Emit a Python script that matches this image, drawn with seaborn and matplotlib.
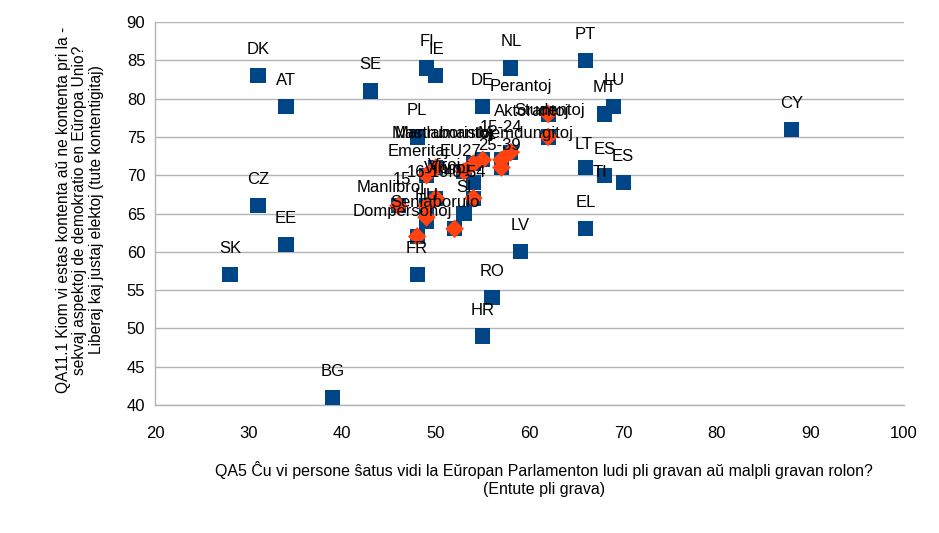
import matplotlib
matplotlib.use("Agg")
import matplotlib.pyplot as plt
import seaborn as sns
import pandas as pd

# Countries (blue squares)
country_labels = ["DK", "AT", "SE", "FI", "IE", "NL", "PT", "DE", "MT", "LU", "CY", "PL",
                  "LT", "ES", "TI", "ES", "CZ", "EE", "SK", "BG", "FR", "RO", "HR", "LV",
                  "EL", "HU", "SI", "EU27"]
country_x = [31, 34, 43, 49, 50, 58, 66, 55, 68, 69, 88, 48,
             66, 68, 68, 70, 31, 34, 28, 39, 48, 56, 55, 59,
             66, 49, 53, 54]
country_y = [83, 79, 81, 84, 83, 84, 85, 79, 78, 79, 76, 75,
             71, 70, 70, 69, 66, 61, 57, 41, 57, 54, 49, 60,
             63, 64, 65, 69]

# Socio-demographic groups (orange diamonds)
group_labels = ["Perantoj", "Studentoj", "Aktorantoj", "15-24", "Memdungitoj", "25-39",
                "Manlaboristoj", "Viroj", "Mastrumantoj", "Emeritaj", "40-54", "16-19",
                "Manlibroj", "Virinoj", "Senlaborulo", "Dompersonoj", "15"]
group_x = [62, 62, 58, 57, 57, 55, 54, 53, 50, 49, 54, 50, 46, 49, 52, 48, 49]
group_y = [78, 75, 73, 72, 71, 72, 71.5, 70.5, 71, 70, 67, 67, 66, 64.5, 63, 62, 66]

x_ticks = [20, 30, 40, 50, 60, 70, 80, 90, 100]
y_ticks = [40, 45, 50, 55, 60, 65, 70, 75, 80, 85, 90]

x_title = "QA5 Ĉu vi persone ŝatus vidi la Eŭropan Parlamenton ludi pli gravan aŭ malpli gravan rolon?\n(Entute pli grava)"
y_title = ("QA11.1 Kiom vi estas kontenta aŭ ne kontenta pri la -\n"
           "sekvaj aspektoj de demokratio en Eŭropa Unio?\n"
           "Liberaj kaj justaj elektoj (tute kontentigitaj)")

# label offsets in image pixels (dx right, dy down) relative to the point
country_off = {"TI": (-4, -3), "EU27": (-13, -31), "LT": (-2, -23)}
group_off = [(-27, -27), (1, -26), (21, -41), (0, -32), (24, -34), (17, -14),
             (-29, -30), (-19, -6), (6, -34), (-8, -24), (-8, -26), (-8, -26),
             (-8, -18), (21, -49), (-20, -26), (-15, -25), (-25, -26)]

BLUE = "#004586"
ORANGE = "#ff420e"

sns.set_theme(style="white")
plt.rcParams["font.family"] = ["Liberation Sans", "DejaVu Sans"]

fig = plt.figure(figsize=(9.39, 5.33), dpi=100)
ax = fig.add_axes([155 / 939, 1 - 405 / 533, (904 - 155) / 939, (405 - 22) / 533])

cdf = pd.DataFrame({"x": country_x, "y": country_y, "label": country_labels})
gdf = pd.DataFrame({"x": group_x, "y": group_y, "label": group_labels})

sns.scatterplot(data=pd.concat([cdf, gdf]), x="x", y="y", marker="s", s=120,
                color=BLUE, edgecolor="none", linewidth=0, ax=ax, zorder=3)
sns.scatterplot(data=gdf, x="x", y="y", marker="D", s=90,
                color=ORANGE, edgecolor="none", linewidth=0, ax=ax, zorder=4)

for i, r in cdf.iterrows():
    dx, dy = country_off.get(r["label"], (0, -26))
    ax.annotate(r["label"], (r["x"], r["y"]), xytext=(dx, -dy), textcoords="offset pixels",
                ha="center", va="center", fontsize=12, color="black", zorder=5)
for i, r in gdf.iterrows():
    dx, dy = group_off[i]
    ax.annotate(r["label"], (r["x"], r["y"]), xytext=(dx, -dy), textcoords="offset pixels",
                ha="center", va="center", fontsize=12, color="black", zorder=5)

ax.set_xlim(20, 100)
ax.set_ylim(40, 90)
ax.set_xticks(x_ticks)
ax.set_yticks(y_ticks)
ax.tick_params(axis="both", labelsize=12, colors="black", length=0)
ax.tick_params(axis="y", pad=7)
ax.tick_params(axis="x", pad=15)
ax.yaxis.grid(True, color="#b3b3b3", linewidth=1)
ax.xaxis.grid(False)
for s in ["top", "right"]:
    ax.spines[s].set_visible(False)
for s in ["left", "bottom"]:
    ax.spines[s].set_color("#b3b3b3")
    ax.spines[s].set_linewidth(1)

ax.set_xlabel("")
ax.set_ylabel("")
fig.text(544 / 939, 1 - 479 / 533, x_title, ha="center", va="center", fontsize=11.5,
         color="black", linespacing=1.3)
fig.text(80 / 939, 1 - 210 / 533, y_title, ha="center", va="center", rotation=90,
         fontsize=11.2, color="black", linespacing=1.12)

fig.savefig("out.png", dpi=100, facecolor="white")
